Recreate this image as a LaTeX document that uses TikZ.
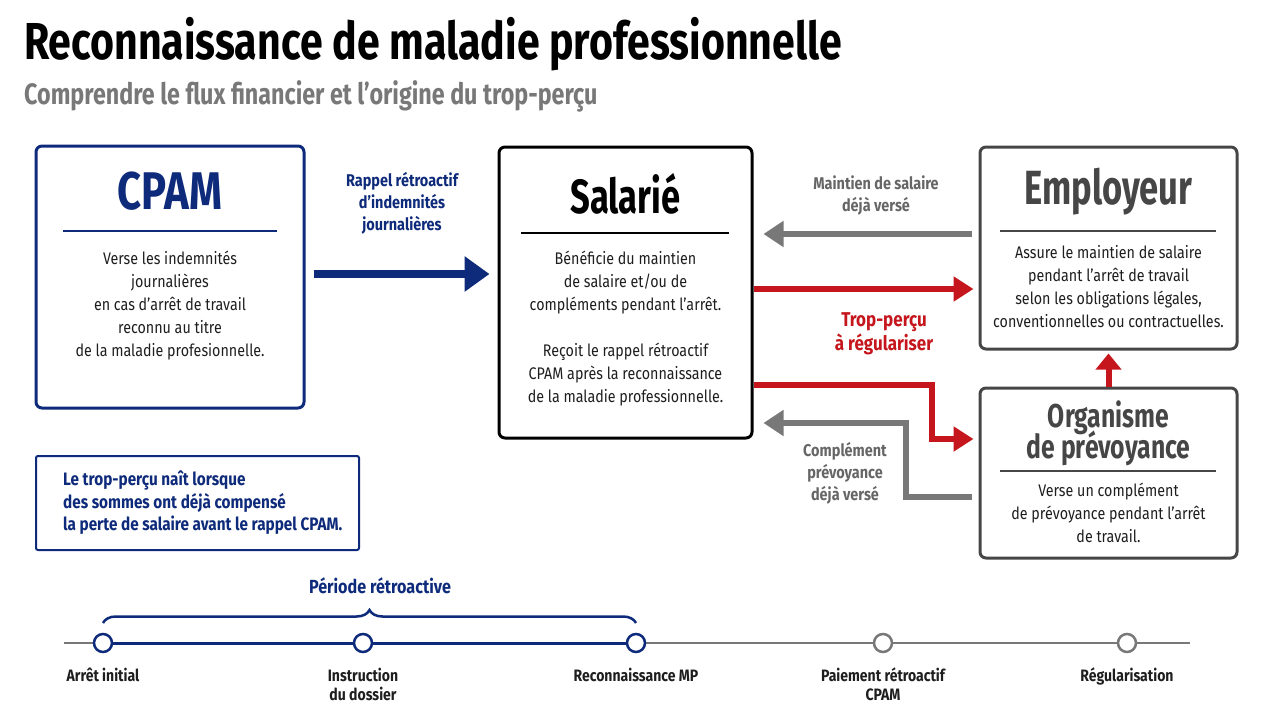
\documentclass[tikz,border=0pt]{standalone}
\usepackage{fontspec}
\setmainfont{Fira Sans}[FakeStretch=0.85]
\newfontfamily\condfont{Fira Sans}[FakeStretch=0.72]
\newfontfamily\orgfamily{Fira Sans}[FakeStretch=0.75]
\newfontfamily\titlefont{Fira Sans}[FakeStretch=0.79]
\usetikzlibrary{arrows.meta,decorations.pathreplacing,positioning}
\definecolor{navy}{RGB}{14,42,122}
\definecolor{redarr}{RGB}{196,22,28}
\definecolor{grayarr}{RGB}{120,120,120}
\definecolor{boxgray}{RGB}{70,70,70}
\definecolor{ink}{RGB}{30,30,30}
\newcommand\bodyfont{\fontsize{16.8}{23}\selectfont}
\newcommand\labfont{\fontsize{17}{22}\selectfont\bfseries}
\newcommand\orgfont{\orgfamily\bfseries\fontsize{33}{31}\selectfont\lineskiplimit=-20pt\relax}
\tikzset{
  box/.style={draw, line width=3pt, rounded corners=6pt, minimum width=#1},
  bodytext/.style={text=ink, align=center, font=\bodyfont},
  boxtitle/.style={font=\condfont\bfseries\fontsize{48}{50}\selectfont, align=center},
  arrlabel/.style={font=\labfont, align=center},
  bluearrow/.style={navy, line width=8pt, -{Triangle[length=25pt,width=34pt]}},
  grayarrow/.style={grayarr, line width=6pt, -{Triangle[length=20pt,width=25pt]}},
  redarrow/.style={redarr, line width=6pt, -{Triangle[length=20pt,width=24pt]}},
  tdot/.style={circle, draw, fill=white, line width=2.5pt, minimum size=18pt, inner sep=0pt},
  tlabel/.style={font=\fontsize{16.5}{19}\selectfont\bfseries, text=ink, align=center}
}
\begin{document}
\begin{tikzpicture}[x=1pt,y=-1pt]
\useasboundingbox (0,0) rectangle (1280,720);
% titre
\node[anchor=west, inner sep=0pt, font=\titlefont\bfseries\fontsize{52}{54}\selectfont] (titre) at (24,44) {Reconnaissance de maladie professionnelle};
\node[anchor=west, inner sep=0pt, text=grayarr, font=\titlefont\bfseries\fontsize{29.5}{31}\selectfont] (soustitre) at (24,96) {Comprendre le flux financier et l’origine du trop-perçu};

% boites
\node[box=268pt, navy, minimum height=262pt] (cpam) at (170,277) {};
\node[box=253pt, black, minimum height=291pt] (salarie) at (625.5,292.5) {};
\node[box=257pt, boxgray, minimum height=202pt] (employeur) at (1108.5,248) {};
\node[box=257pt, boxgray, minimum height=170pt] (prevoyance) at (1108.5,473) {};
\node[draw=navy, line width=2pt, rounded corners=2pt, minimum width=323pt, minimum height=94pt] (note) at (197.5,503) {};

\node[boxtitle, text=navy, font=\titlefont\bfseries\fontsize{53}{55}\selectfont] (cpamtitre) at (170,191) {CPAM};
\draw[navy, line width=1.5pt] (63,231) -- (277,231);
\node[bodytext] (cpamtxt) at (170,306) {Verse les indemnités\\journalières\\en cas d’arrêt de travail\\reconnu au titre\\de la maladie profesionnelle.};

\node[boxtitle, text=black] (salarietitre) at (625.5,194) {Salarié};
\draw[black, line width=1.5pt] (521,233) -- (729,233);
\node[bodytext] (salarietxt) at (625.5,329) {Bénéficie du maintien\\de salaire et/ou de\\compléments pendant l’arrêt.\\[23pt]Reçoit le rappel rétroactif\\CPAM après la reconnaissance\\de la maladie professionnelle.};

\node[boxtitle, text=boxgray] (employeurtitre) at (1108.5,192) {Employeur};
\draw[boxgray, line width=1.5pt] (1000,231) -- (1216,231);
\node[bodytext] (employeurtxt) at (1108.5,287) {Assure le maintien de salaire\\pendant l’arrêt de travail\\selon les obligations légales,\\conventionnelles ou contractuelles.};

\node[boxtitle, text=boxgray, font=\orgfont] (prevoyancetitre) at (1108.5,433) {Organisme\\de prévoyance};
\draw[boxgray, line width=1.5pt] (1000,471) -- (1216,471);
\node[bodytext] (prevoyancetxt) at (1108.5,513) {Verse un complément\\de prévoyance pendant l’arrêt\\de travail.};

\node[anchor=west, inner sep=0pt, text=navy, align=left, font=\fontsize{18}{22.5}\selectfont\bfseries] (notetxt) at (63,503) {Le trop-perçu naît lorsque\\des sommes ont déjà compensé\\la perte de salaire avant le rappel CPAM.};

% flux
\draw[bluearrow] ([xshift=8pt]cpam.east |- 0,274) -- ([xshift=-8pt]salarie.west |- 0,274);
\node[arrlabel, text=navy] (rappel) at (402,203) {Rappel rétroactif\\d’indemnités\\journalières};

\draw[grayarrow] ([xshift=-7pt]employeur.west |- 0,234) -- ([xshift=10pt]salarie.east |- 0,234);
\node[arrlabel, text=grayarr!85!black] (maintien) at (876,195) {Maintien de salaire\\déjà versé};

\draw[redarrow] (salarie.east |- 0,289) -- ([xshift=-5pt]employeur.west |- 0,289);
\node[arrlabel, text=redarr, font=\fontsize{20}{24}\selectfont\bfseries] (trop) at (884,334) {Trop-perçu\\à régulariser};

\draw[redarrow] (salarie.east |- 0,385) -- (932,385) |- ([xshift=-5pt]prevoyance.west |- 0,439);

\draw[grayarrow] ([xshift=-7pt]prevoyance.west |- 0,497) -- (906,497) |- ([xshift=10pt]salarie.east |- 0,423);
\node[arrlabel, text=grayarr!85!black] (complement) at (845,473) {Complément\\prévoyance\\déjà versé};

\draw[redarrow, -{Triangle[length=16pt,width=25pt]}] (prevoyance.north) -- ([yshift=-3pt]employeur.south);

% frise
\coordinate (tdebut) at (64,643);
\coordinate (tfin) at (1190,643);
\draw[grayarr, line width=2.5pt] (tdebut) -- (tfin);
\node[tdot, draw=navy] (t1) at (103,643) {};
\node[tdot, draw=navy] (t2) at (363,643) {};
\node[tdot, draw=navy] (t3) at (636,643) {};
\node[tdot, draw=grayarr] (t4) at (883,643) {};
\node[tdot, draw=grayarr] (t5) at (1127,643) {};
\draw[navy, line width=3pt] (t1) -- (t2);
\draw[navy, line width=3pt] (t2) -- (t3);

\draw[navy, line width=2.5pt, decorate, decoration={brace, amplitude=13pt}] ([yshift=20pt]t1.center) -- ([yshift=20pt]t3.center);
\node[text=navy, font=\fontsize{19}{22}\selectfont\bfseries] (periode) at (380,586) {Période rétroactive};

\node[tlabel, below=11pt of t1] (l1) {Arrêt initial};
\node[tlabel, below=11pt of t2] (l2) {Instruction\\du dossier};
\node[tlabel, below=11pt of t3] (l3) {Reconnaissance MP};
\node[tlabel, below=11pt of t4] (l4) {Paiement rétroactif\\CPAM};
\node[tlabel, below=11pt of t5] (l5) {Régularisation};
\end{tikzpicture}
\end{document}
